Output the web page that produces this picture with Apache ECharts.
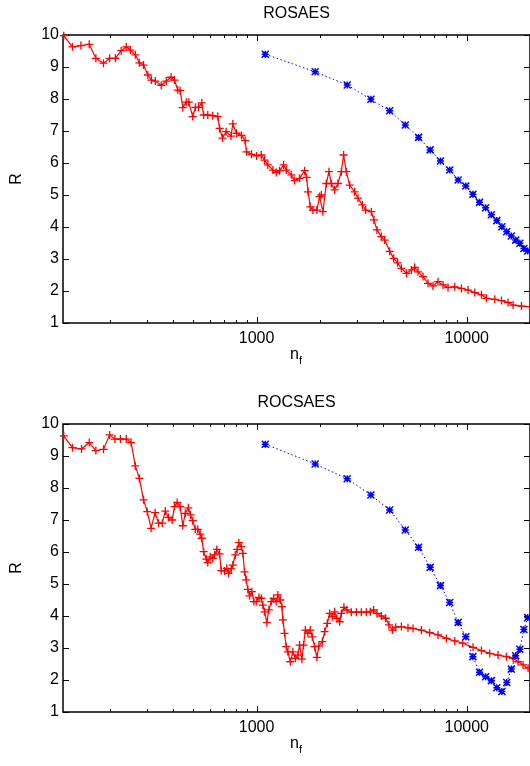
<!DOCTYPE html>
<html><head><meta charset="utf-8">
<script src="https://cdn.jsdelivr.net/npm/echarts@6/dist/echarts.min.js"></script>
<style>html,body{margin:0;padding:0;background:#fff}#c{width:530px;height:766px}</style>
</head><body><div id="c"></div>
<script>
const panelTitles = ['ROSAES', 'ROCSAES'];
const yTicks = [1, 2, 3, 4, 5, 6, 7, 8, 9, 10];
const xTickLabels = [1000, 10000];
const xMinorTicks = [200, 300, 400, 500, 600, 700, 800, 900, 2000, 3000, 4000, 5000, 6000, 7000, 8000, 9000];

const topRedX = [121,133,146,160,172,187,200,213,227,240,251,265,277,290,304,316,330,352,372,392,407,422,433,446,463,476,497,512,529,549,560,586,619,654,667,689,717,756,771,803,848,882,896,947,1000,1053,1092,1132,1196,1241,1287,1345,1385,1463,1517,1602,1693,1730,1759,1802,1854,1937,1995,2033,2069,2148,2210,2268,2352,2438,2531,2596,2674,2773,2928,3037,3186,3304,3517,3619,3740,3925,4070,4300,4491,4692,4887,5164,5455,5656,5864,6194,6543,6911,7301,7713,8147,8768,9436,10144,10917,11749,12410,13594,14633,15730,16616,18220,19950];
const topRedY = [9.98,9.63,9.67,9.71,9.27,9.12,9.27,9.27,9.51,9.63,9.53,9.38,9.13,9.06,8.75,8.59,8.56,8.43,8.56,8.68,8.59,8.28,8.26,7.73,7.90,7.90,7.45,7.74,7.74,7.88,7.5,7.5,7.48,7.45,7.08,6.78,6.98,6.84,7.22,6.93,6.86,6.70,6.35,6.27,6.22,6.25,6.09,5.94,5.78,5.70,5.76,5.94,5.78,5.63,5.45,5.52,5.76,5.55,5.10,4.63,4.53,4.53,4.95,5.0,4.48,5.36,5.73,5.36,5.16,5.36,5.73,6.25,5.73,5.31,5.10,4.90,4.69,4.53,4.48,4.22,3.91,3.70,3.59,3.24,3.02,2.88,2.71,2.55,2.66,2.74,2.60,2.45,2.24,2.16,2.29,2.19,2.11,2.13,2.08,2.03,1.95,1.88,1.77,1.74,1.70,1.64,1.56,1.53,1.51];

const botRedX = [121,133,147,160,172,187,200,212,225,240,253,265,277,290,302,315,329,342,356,368,381,397,407,419,433,446,458,474,485,497,511,525,539,549,560,576,586,602,619,631,647,667,679,704,722,736,758,771,792,809,824,846,861,877,893,909,926,950,971,997,1026,1053,1072,1092,1120,1144,1175,1205,1241,1263,1297,1320,1334,1359,1385,1410,1447,1489,1529,1573,1602,1643,1674,1706,1755,1802,1842,1889,1937,1980,2055,2108,2171,2226,2293,2352,2412,2485,2531,2604,2692,2825,2985,3152,3330,3479,3607,3740,3925,4115,4266,4428,4591,4887,5254,5551,6085,6665,7301,8005,8768,9572,10715,11749,12870,14093,15453,16616,17553,18545,19582];
const botRedY = [9.63,9.26,9.22,9.42,9.17,9.21,9.66,9.53,9.53,9.53,9.42,8.69,8.30,7.63,7.26,6.74,7.23,6.90,6.90,7.28,7.08,7.0,7.42,7.55,7.42,6.82,7.21,7.38,7.16,6.98,6.71,6.71,6.56,6.43,6.01,5.78,5.67,5.85,5.80,5.91,6.08,5.94,5.42,5.41,5.49,5.33,5.47,5.59,5.91,6.08,6.29,6.17,5.96,5.38,5.13,4.83,4.63,4.76,4.45,4.45,4.58,4.55,4.34,4.13,3.79,4.19,4.45,4.55,4.45,4.66,4.5,4.29,3.88,3.46,3.04,2.88,2.57,2.88,2.68,2.78,3.09,2.65,3.09,3.56,3.46,3.56,3.35,3.04,2.71,3.06,3.20,3.51,3.77,4.08,3.98,4.13,3.93,3.82,4.08,4.27,4.19,4.12,4.12,4.12,4.12,4.13,4.19,4.08,4.0,3.93,3.72,3.56,3.65,3.67,3.63,3.61,3.56,3.48,3.41,3.30,3.22,3.15,3.02,2.92,2.83,2.78,2.73,2.68,2.57,2.47,2.37];

const blueX = [1100,1900,2700,3500,4300,5100,5900,6700,7500,8300,9100,9900,10700,11500,12300,13100,13900,14700,15500,16300,17100,17900,18700,19500];
const topBlueY = [9.40,8.85,8.44,7.99,7.63,7.19,6.80,6.41,6.06,5.78,5.47,5.28,5.02,4.77,4.60,4.38,4.20,4.01,3.85,3.72,3.59,3.49,3.33,3.25];
const botBlueY = [9.37,8.75,8.29,7.78,7.31,6.69,6.15,5.52,4.95,4.42,3.80,3.35,2.73,2.24,2.10,1.98,1.76,1.64,1.92,2.34,2.76,2.96,3.58,3.95];

const FONT = "'Liberation Sans', Arial, sans-serif";
const FS = 16;
const GL = 63, GW = 467, GH = 288;
const gridTops = [35, 424];
const XMIN = 120, XMAX = 20000;

const PLUS = 'path://M-1,0L1,0M0,-1L0,1';
const STAR = 'path://M-1,0L1,0M0,-1L0,1M-1,-1L1,1M-1,1L1,-1';

function zip(xs, ys) { return xs.map((x, i) => [x, ys[i]]); }

const chart = echarts.init(document.getElementById('c'), null, { renderer: 'canvas' });

const grids = [], xAxes = [], yAxes = [], series = [];
const redSets = [zip(topRedX, topRedY), zip(botRedX, botRedY)];
const blueSets = [zip(blueX, topBlueY), zip(blueX, botBlueY)];

for (let i = 0; i < 2; i++) {
  grids.push({ left: GL, top: gridTops[i], width: GW, height: GH, show: true,
    borderColor: '#000', borderWidth: 1.5, backgroundColor: 'transparent' });
  xAxes.push({ type: 'log', logBase: 10, gridIndex: i, min: XMIN, max: XMAX,
    axisLine: { show: false }, axisTick: { show: false }, splitLine: { show: false },
    axisLabel: { color: '#000', fontSize: FS, fontFamily: FONT, margin: 8,
      showMinLabel: false, showMaxLabel: false,
      formatter: v => {
        const r = xTickLabels.find(t => Math.abs(t - v) / t < 1e-6);
        return r ? String(r) : '';
      } } });
  yAxes.push({ type: 'value', gridIndex: i, min: yTicks[0], max: yTicks[yTicks.length - 1], interval: 1,
    position: 'left', name: 'R', nameLocation: 'middle', nameRotate: 90, nameGap: 38,
    nameTextStyle: { color: '#000', fontSize: FS, fontFamily: FONT },
    axisLine: { show: false }, splitLine: { show: false },
    axisTick: { show: true, inside: true, length: 6, lineStyle: { color: '#000', width: 1 } },
    axisLabel: { color: '#000', fontSize: FS, fontFamily: FONT, margin: 4 } });
  yAxes.push({ type: 'value', gridIndex: i, min: yTicks[0], max: yTicks[yTicks.length - 1], interval: 1,
    position: 'right', axisLine: { show: false }, splitLine: { show: false },
    axisTick: { show: true, inside: true, length: 6, lineStyle: { color: '#000', width: 1 } },
    axisLabel: { show: false } });
  series.push({ type: 'line', xAxisIndex: i, yAxisIndex: 2 * i, data: redSets[i],
    symbol: PLUS, symbolSize: 8, animation: false, silent: true, clip: true, z: 2,
    lineStyle: { color: '#ff0000', width: 1.2 },
    itemStyle: { color: '#ff0000', borderColor: '#ff0000', borderWidth: 1.3 } });
  series.push({ type: 'line', xAxisIndex: i, yAxisIndex: 2 * i, data: blueSets[i],
    symbol: STAR, symbolSize: 7, animation: false, silent: true, clip: true, z: 3,
    lineStyle: { color: '#0000ff', width: 1, type: [1.5, 2.5] },
    itemStyle: { color: '#0000ff', borderColor: '#0000ff', borderWidth: 1.5 } });
}

chart.setOption({ backgroundColor: '#fff', animation: false,
  grid: grids, xAxis: xAxes, yAxis: yAxes, series: series });

const g = [];
function seg(x1, y1, x2, y2) {
  return { type: 'line', silent: true, z: 10,
    shape: { x1: x1, y1: y1, x2: x2, y2: y2 }, style: { stroke: '#000', lineWidth: 1 } };
}
for (let i = 0; i < 2; i++) {
  const top = gridTops[i], bot = top + GH;
  for (const v of xMinorTicks) {
    const p = Math.round(chart.convertToPixel({ xAxisIndex: i }, v)) + 0.5;
    g.push(seg(p, bot, p, bot - 3)); g.push(seg(p, top, p, top + 3));
  }
  for (const v of xTickLabels) {
    const p = Math.round(chart.convertToPixel({ xAxisIndex: i }, v)) + 0.5;
    g.push(seg(p, bot, p, bot - 6)); g.push(seg(p, top, p, top + 6));
  }
  const cx = GL + GW / 2;
  g.push({ type: 'text', silent: true, x: cx, y: top - 29,
    style: { text: panelTitles[i], fill: '#000', font: FS + 'px ' + FONT, align: 'center', verticalAlign: 'top' } });
  g.push({ type: 'text', silent: true, x: cx - 6.5, y: bot + 24,
    style: { text: 'n', fill: '#000', font: FS + 'px ' + FONT, align: 'left', verticalAlign: 'top' } });
  g.push({ type: 'text', silent: true, x: cx + 2.5, y: bot + 32,
    style: { text: 'f', fill: '#000', font: '11px ' + FONT, align: 'left', verticalAlign: 'top' } });
}
chart.setOption({ graphic: g });
</script></body></html>
